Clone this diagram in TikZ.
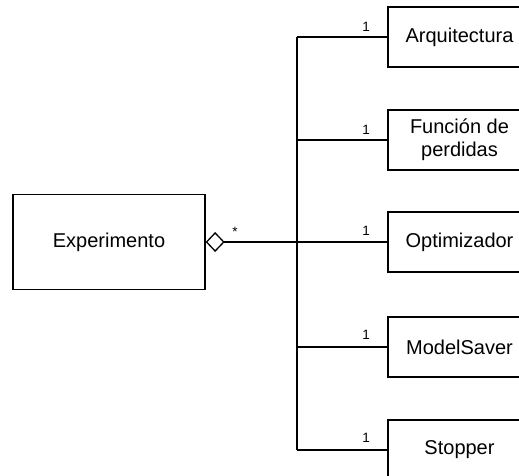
\documentclass[tikz,border=0pt]{standalone}
\usepackage{fontspec}
\setmainfont{Liberation Sans}
\usetikzlibrary{arrows.meta}
\begin{document}
\begin{tikzpicture}[x=1pt,y=-1pt,
  every node/.style={inner sep=0pt},
  cls/.style={draw, line width=1.3pt, minimum width=143pt, minimum height=60pt,
    align=center, font=\fontsize{20}{23}\selectfont},
  link/.style={line width=1.4pt},
  mult/.style={font=\fontsize{13.5}{15}\selectfont}]
  \useasboundingbox (0,0) rectangle (519,476);
  \clip (0,0) rectangle (519,476);
  % aggregate
  \node[cls, minimum width=192pt, minimum height=95pt] (exp) at (109,242) {Experimento};
  % parts
  \node[cls] (arq) at (459.5,37) {Arquitectura};
  \node[cls] (loss) at (459.5,140) {Función de\\perdidas};
  \node[cls] (opt) at (459.5,242) {Optimizador};
  \node[cls] (saver) at (459.5,347) {ModelSaver};
  \node[cls] (stop) at (459.5,450) {Stopper};
  % trunk
  \coordinate (tx) at (297,0);
  \coordinate (j1) at (tx |- arq.west);
  \coordinate (j2) at (tx |- loss.west);
  \coordinate (j4) at (tx |- saver.west);
  \coordinate (j5) at (tx |- stop.west);
  % aggregation line with open diamond
  \draw[link, {Diamond[open,length=19pt,width=20pt,line width=1.3pt]}-] (exp.east) -- (opt.west);
  \draw[link] (j1) -- (j5);
  \draw[link] (j1) -- (arq.west);
  \draw[link] (j2) -- (loss.west);
  \draw[link] (j4) -- (saver.west);
  \draw[link] (j5) -- (stop.west);
  % multiplicities
  \node[mult] (m0) at (235,232) {*};
  \node[mult] (m1) at (366,27) {1};
  \node[mult] (m2) at (366,130) {1};
  \node[mult] (m3) at (366,231) {1};
  \node[mult] (m4) at (366,335) {1};
  \node[mult] (m5) at (366,438) {1};
\end{tikzpicture}
\end{document}
